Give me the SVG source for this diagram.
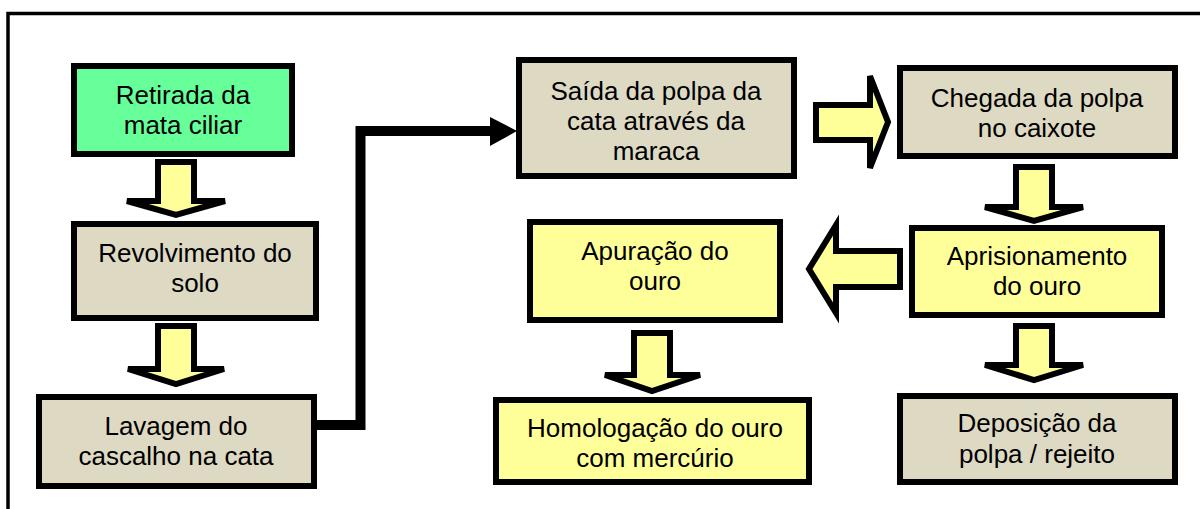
<svg xmlns="http://www.w3.org/2000/svg" width="1200" height="509" viewBox="0 0 1200 509">
<style>
.box{stroke:#000;stroke-width:6}
.tan{fill:#DDD9C3}
.grn{fill:#66FF99}
.yel{fill:#FFFF99}
.arr{fill:#FFFF99;stroke:#000;stroke-width:6;stroke-linejoin:miter}
text{font-family:"Liberation Sans",Arial,sans-serif;font-size:26px;fill:#000;text-anchor:middle}
</style>
<rect x="0" y="0" width="1200" height="509" fill="#fff"/>
<path d="M8 509 V13.5 H1200" fill="none" stroke="#000" stroke-width="3.5"/>

<g id="connectors">
<polyline points="317,425 360.5,425 360.5,131 492,131" fill="none" stroke="#000" stroke-width="10"/>
<polygon points="490,117 517,131 490,146" fill="#000"/>
<polygon class="arr" points="158,162 194,162 194,201 225,201 176,215 127,201 158,201"/>
<polygon class="arr" points="158,326 194,326 194,369 224,369 176,384 128,369 158,369"/>
<polygon class="arr" points="816,105 870,105 870,76 888,122 870,168 870,140 816,140"/>
<polygon class="arr" points="1016,167 1052,167 1052,207 1083,207 1034,221 985,207 1016,207"/>
<polygon class="arr" points="1016,326 1052,326 1052,365 1083,365 1034,380 985,365 1016,365"/>
<polygon class="arr" points="900,251 836,251 836,225 809,269 836,313 836,287 900,287"/>
<polygon class="arr" points="634,333 670,333 670,375 700,375 652,391 605,375 634,375"/>
</g>

<g id="n1"><rect class="box grn" x="74" y="66" width="218" height="88"/>
<text x="183" y="104">Retirada da</text><text x="183" y="134">mata ciliar</text></g>

<g id="n2"><rect class="box tan" x="74" y="224" width="242" height="94"/>
<text x="195" y="262">Revolvimento do</text><text x="195" y="292">solo</text></g>

<g id="n3"><rect class="box tan" x="39" y="397" width="275" height="89"/>
<text x="176" y="435">Lavagem do</text><text x="176" y="465">cascalho na cata</text></g>

<g id="n4"><rect class="box tan" x="519" y="60" width="275" height="116"/>
<text x="656" y="100">Saída da polpa da</text><text x="656" y="130">cata através da</text><text x="656" y="160">maraca</text></g>

<g id="n5"><rect class="box tan" x="900" y="68" width="275" height="88"/>
<text x="1037" y="107">Chegada da polpa</text><text x="1037" y="137">no caixote</text></g>

<g id="n6"><rect class="box yel" x="912" y="228" width="250" height="87"/>
<text x="1037" y="265">Aprisionamento</text><text x="1037" y="295">do ouro</text></g>

<g id="n7"><rect class="box yel" x="530" y="222" width="250" height="98"/>
<text x="655" y="260">Apuração do</text><text x="655" y="290">ouro</text></g>

<g id="n8"><rect class="box tan" x="900" y="396" width="275" height="86"/>
<text x="1037" y="432">Deposição da</text><text x="1037" y="463">polpa / rejeito</text></g>

<g id="n9"><rect class="box yel" x="496" y="400" width="313" height="82"/>
<text x="655" y="437">Homologação do ouro</text><text x="655" y="467">com mercúrio</text></g>
</svg>
